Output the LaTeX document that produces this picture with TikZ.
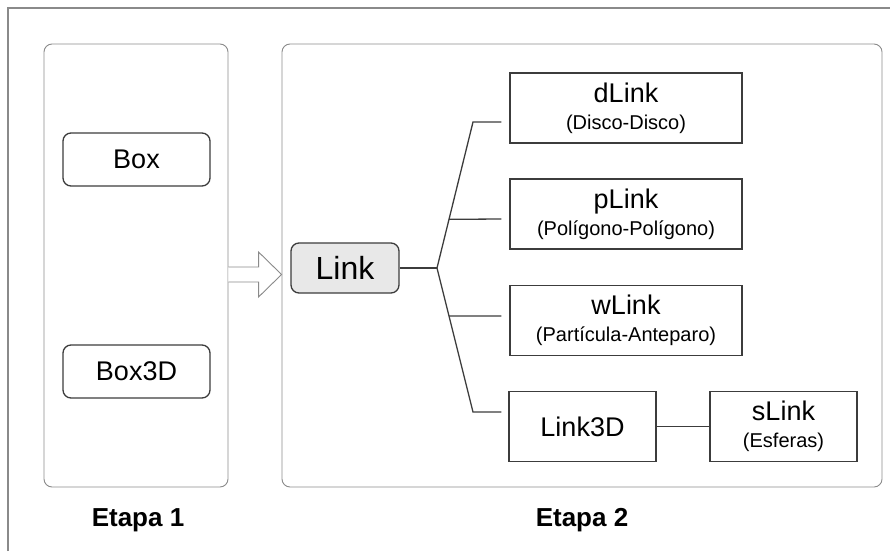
\documentclass[tikz,border=0pt]{standalone}
\usepackage{fontspec}
\setmainfont{Liberation Sans}
\usepackage{tikz}
\usetikzlibrary{positioning, calc}
\definecolor{linha}{HTML}{3C3C3C}
\definecolor{moldura}{HTML}{8A8A8A}
\newcommand{\Classe}[2]{{\fontsize{27}{27}\selectfont #1}\\#2}

\begin{document}
\begin{tikzpicture}[x=1pt, y=-1pt,
    etapa/.style={draw=moldura, line width=0.9pt, rounded corners=8pt, minimum width=#1, minimum height=443pt, inner sep=0pt},
    caixa/.style={draw=linha, line width=1.3pt, minimum width=#1, minimum height=53pt, inner sep=0pt, align=center, font=\fontsize{27}{27}\selectfont},
    ramo/.style={draw=linha, line width=1.3pt, minimum width=#1, minimum height=70pt, inner sep=0pt, align=center, font=\fontsize{20}{27}\selectfont},
    liga/.style={draw=linha, line width=1.3pt}]

    \useasboundingbox (0,0) rectangle (890,551);
    \draw[moldura, line width=1.2pt] (8,551) -- (8,8) -- (890,8);

    \node[etapa=184pt] (E1) at (136,265.5) {};
    \node[etapa=600pt] (E2) at (582,265.5) {};
    \draw(138,520) node (T1) {\fontsize{26}{26}\selectfont\bfseries Etapa 1};
    \draw(582,520) node (T2) {\fontsize{26}{26}\selectfont\bfseries Etapa 2};

    \draw(136.5,159.5) node[caixa=147pt, rounded corners=8pt] (box) {Box};
    \draw(136.5,371.5) node[caixa=147pt, rounded corners=8pt] (box3d) {Box3D};

    % seta de passagem entre as etapas
    \coordinate (sa) at ($(E1.east)+(0,9)$);
    \coordinate (sb) at ($(E2.west)+(0,9)$);
    \draw[moldura, line width=0.9pt, fill=white] ($(sa)+(0,-7.5)$) -- ($(sb)+(-23,-7.5)$) -- ($(sb)+(-23,-22.5)$)
        -- (sb) -- ($(sb)+(-23,22.5)$) -- ($(sb)+(-23,7.5)$) -- ($(sa)+(0,7.5)$);

    \draw(345,268) node[caixa=108pt, minimum height=50pt, rounded corners=8pt, fill=gray!18, font=\fontsize{32}{32}\selectfont] (link) {Link};

    \draw(626,108) node[ramo=232pt] (dlink) {\Classe{dLink}{(Disco-Disco)}};
    \draw(626,214) node[ramo=232pt] (plink) {\Classe{pLink}{(Polígono-Polígono)}};
    \draw(626,320.5) node[ramo=232pt] (wlink) {\Classe{wLink}{(Partícula-Anteparo)}};
    \draw(582.5,426.5) node[ramo=147pt, font=\fontsize{27}{27}\selectfont] (link3d) {Link3D};
    \draw(783.5,426.5) node[ramo=147pt] (slink) {\Classe{sLink}{(Esferas)}};

    \coordinate (fork) at (437,268);
    \coordinate (cima) at (473,122);
    \coordinate (baixo) at (473,412);
    \coordinate (d1) at ($(dlink.west)+(-8,14)$);
    \coordinate (d2) at ($(plink.west)+(-8,5)$);
    \coordinate (d3) at ($(wlink.west)+(-8,-4.5)$);
    \coordinate (d4) at ($(link3d.west)+(-7,-14.5)$);

    \draw[liga] (link.east) -- (fork);
    \draw[liga] (d1) -- (cima) -- (fork) -- (baixo) -- (d4);
    \draw[liga] ($(fork)!1/3!(cima)$) -- (d2);
    \draw[liga] ($(fork)!1/3!(baixo)$) -- (d3);
    \draw[liga] (link3d.east) -- (slink.west);

\end{tikzpicture}
\end{document}
